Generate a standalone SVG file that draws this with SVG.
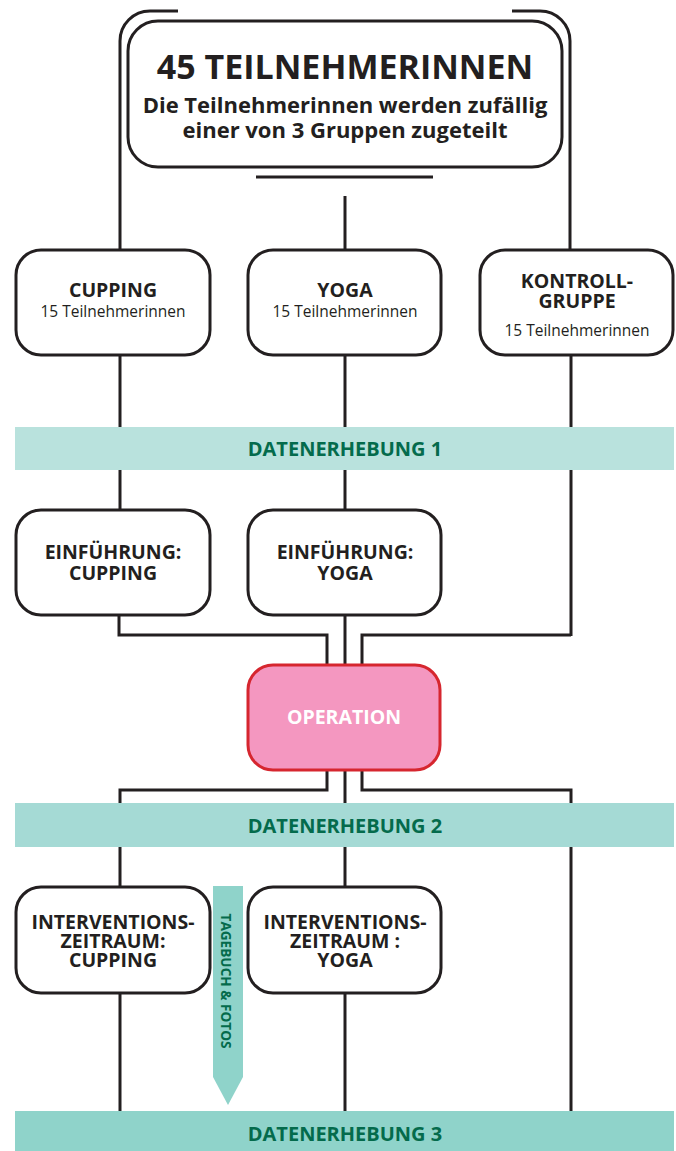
<svg xmlns="http://www.w3.org/2000/svg" width="676" height="1151" viewBox="0 0 676 1151">
<style>
.box{fill:#fff;stroke:#231f20;stroke-width:3}
.ln{fill:none;stroke:#231f20;stroke-width:3}
.t{font-family:"Open Sans","Liberation Sans",sans-serif;font-weight:700;fill:#231f20;text-anchor:middle;font-size:19.5px}
.s{font-family:"Open Sans","Liberation Sans",sans-serif;font-weight:400;fill:#231f20;text-anchor:middle;font-size:15.5px}
.b{font-family:"Open Sans","Liberation Sans",sans-serif;font-weight:700;fill:#046b4c;text-anchor:middle;font-size:20px}
</style>
<rect width="676" height="1151" fill="#fff"/>
<g id="connectors">
<path class="ln" d="M178,11 H150 A30,30 0 0 0 120,41 V250"/>
<path class="ln" d="M512,11 H540 A30,30 0 0 1 570,41 V250"/>
<line class="ln" x1="256" y1="177" x2="433" y2="177"/>
<line class="ln" x1="345" y1="196" x2="345" y2="250"/>
<line class="ln" x1="120" y1="355" x2="120" y2="510"/>
<line class="ln" x1="345" y1="355" x2="345" y2="510"/>
<line class="ln" x1="571" y1="355" x2="571" y2="636"/>
<path class="ln" d="M119,615 V635 H327 V665"/>
<line class="ln" x1="345" y1="615" x2="345" y2="665"/>
<path class="ln" d="M571,635 H362 V665"/>
<path class="ln" d="M327,770 V790 H120 V887"/>
<line class="ln" x1="345" y1="770" x2="345" y2="887"/>
<path class="ln" d="M362,770 V790 H571 V1111"/>
<line class="ln" x1="120" y1="993" x2="120" y2="1111"/>
<line class="ln" x1="345" y1="993" x2="345" y2="1111"/>
</g>
<g id="band1">
<rect x="15" y="427" width="659" height="43" fill="#b9e2dd"/>
<text class="b" x="345" y="456">DATENERHEBUNG 1</text>
</g>
<g id="band2">
<rect x="15" y="803" width="659" height="44" fill="#a5dad5"/>
<text class="b" x="345" y="833">DATENERHEBUNG 2</text>
</g>
<g id="band3">
<rect x="15" y="1111" width="659" height="40" fill="#8fd3ca"/>
<text class="b" x="345" y="1141">DATENERHEBUNG 3</text>
</g>
<g id="start">
<rect class="box" x="128" y="21" width="434" height="146" rx="30"/>
<text class="t" x="345" y="79" style="font-size:34px">45 TEILNEHMERINNEN</text>
<text class="t" x="345" y="113" style="font-size:22px">Die Teilnehmerinnen werden zufällig</text>
<text class="t" x="345" y="138" style="font-size:22px">einer von 3 Gruppen zugeteilt</text>
</g>
<g id="cupping">
<rect class="box" x="16" y="250" width="194" height="105" rx="25"/>
<text class="t" x="113" y="297">CUPPING</text>
<text class="s" x="113" y="317">15 Teilnehmerinnen</text>
</g>
<g id="yoga">
<rect class="box" x="248" y="250" width="193" height="105" rx="25"/>
<text class="t" x="345" y="297">YOGA</text>
<text class="s" x="345" y="317">15 Teilnehmerinnen</text>
</g>
<g id="kontroll">
<rect class="box" x="480" y="250" width="193" height="105" rx="25"/>
<text class="t" x="577" y="288">KONTROLL-</text>
<text class="t" x="577" y="308">GRUPPE</text>
<text class="s" x="577" y="336">15 Teilnehmerinnen</text>
</g>
<g id="einf-cupping">
<rect class="box" x="16" y="510" width="194" height="105" rx="25"/>
<text class="t" x="113" y="559">EINFÜHRUNG:</text>
<text class="t" x="113" y="580">CUPPING</text>
</g>
<g id="einf-yoga">
<rect class="box" x="248" y="510" width="193" height="105" rx="25"/>
<text class="t" x="345" y="559">EINFÜHRUNG:</text>
<text class="t" x="345" y="580">YOGA</text>
</g>
<g id="operation">
<rect x="248" y="665" width="192" height="105" rx="25" fill="#f497c0" stroke="#d6262f" stroke-width="3"/>
<text class="t" x="344" y="724" style="fill:#fff">OPERATION</text>
</g>
<g id="int-cupping">
<rect class="box" x="16" y="887" width="194" height="106" rx="25"/>
<text class="t" x="113" y="929">INTERVENTIONS-</text>
<text class="t" x="113" y="948">ZEITRAUM:</text>
<text class="t" x="113" y="967">CUPPING</text>
</g>
<g id="int-yoga">
<rect class="box" x="248" y="887" width="193" height="106" rx="25"/>
<text class="t" x="345" y="929">INTERVENTIONS-</text>
<text class="t" x="345" y="948">ZEITRAUM :</text>
<text class="t" x="345" y="967">YOGA</text>
</g>
<g id="tagebuch">
<path d="M213,886 H243 V1077 L228,1105 L213,1077 Z" fill="#8fd3ca"/>
<text class="b" transform="translate(221,981) rotate(90)" style="font-size:14px" x="0" y="0" textLength="135" lengthAdjust="spacingAndGlyphs">TAGEBUCH &amp; FOTOS</text>
</g>
</svg>
